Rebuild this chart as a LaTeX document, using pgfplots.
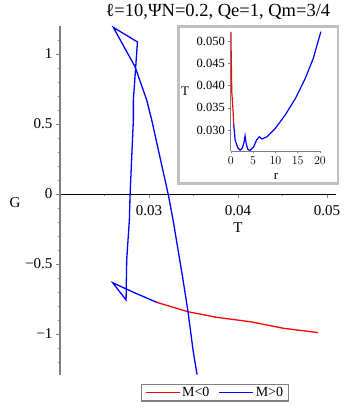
\documentclass[border=0pt]{standalone}
\usepackage{pgfplots}
\pgfplotsset{compat=1.18}
\usepackage{fontspec}
\setmainfont{Liberation Serif}
\definecolor{mred}{RGB}{255,0,0}
\definecolor{mblue}{RGB}{0,0,255}
\begin{document}
\begin{tikzpicture}[x=1pt,y=1pt]
\useasboundingbox (0,0) rectangle (344,410);
% main plot
\begin{axis}[
    scale only axis,
    width=276pt, height=348.6pt,
    anchor=south west, at={(60pt,35.4pt)},
    xmin=0.02, xmax=0.051,
    ymin=-1.29, ymax=1.2,
    axis x line=middle, axis y line=left,
    axis line style={-},
    x axis line style={black, line width=0.7pt},
    y axis line style={gray, line width=2pt},
    scaled x ticks=false, scaled y ticks=false,
    xtick={0.03,0.04,0.05},
    xticklabels={0.03,0.04,0.05},
    minor xtick={0.025,0.035,0.045},
    ytick={-1,-0.5,0,0.5,1},
    yticklabels={−1,−0.5,0,0.5,1},
    minor ytick={-1.2,-1.1,-0.9,-0.8,-0.7,-0.6,-0.4,-0.3,-0.2,-0.1,0.1,0.2,0.3,0.4,0.6,0.7,0.8,0.9,1.1},
    tick align=outside,
    major tick length=4pt, minor tick length=2.5pt,
    every tick/.style={gray, line width=0.6pt},
    tick label style={font=\fontsize{15}{15}\selectfont},
    xticklabel style={yshift=-4pt},
    title={ℓ=10,ΨN=0.2, Qe=1, Qm=3/4},
    every axis title/.style={at={(0.572,1.040)}, anchor=center, font=\fontsize{18.5}{18.5}\selectfont},
    xlabel={T},
    every axis x label/.style={at={(0.645,0.4205)}, anchor=center, font=\fontsize{15}{15}\selectfont},
    ylabel={G},
    every axis y label/.style={at={(-0.163,0.492)}, anchor=center, font=\fontsize{15}{15}\selectfont},
    legend columns=2,
    legend style={at={(0.5616,-0.0517)}, anchor=center, draw=gray, line width=1.2pt,
        font=\fontsize{14}{14}\selectfont, inner xsep=3pt, inner ysep=1pt,
        /tikz/every even column/.append style={column sep=7pt}},
    legend image code/.code={\draw[#1] (0pt,0pt) -- (34pt,0pt);},
]
\addplot[mred, line width=1.3pt] coordinates {
    (0.03087,-0.774) (0.03438,-0.841) (0.03761,-0.881) (0.04135,-0.912)
    (0.04509,-0.959) (0.0490,-0.990)
};
\addlegendentry{M<0}
\addplot[mblue, line width=1.3pt] coordinates {
    (0.03539,-1.29) (0.03494,-1.114) (0.03438,-0.841) (0.03382,-0.614)
    (0.03270,-0.186) (0.03217,-0.007) (0.03030,0.529) (0.02974,0.671)
    (0.02843,0.909) (0.02599,1.19) (0.02870,1.086) (0.02824,0.671)
    (0.02824,0.529) (0.02787,-0.007) (0.02779,-0.186) (0.02749,-0.471)
    (0.02742,-0.757) (0.02592,-0.634) (0.02843,-0.707) (0.03087,-0.774)
};
\addlegendentry{M>0}
\end{axis}
% inset frame
\draw[draw={rgb,255:red,192;green,192;blue,192}, fill=white, line width=2.7pt]
    (178.7,226.2) rectangle (338,383.7);
% inset plot
\begin{axis}[
    scale only axis,
    width=90.5pt, height=119.3pt,
    anchor=south west, at={(230.8pt,259pt)},
    xmin=0, xmax=20.3,
    ymin=0.0253, ymax=0.0521,
    axis lines=left,
    axis line style={-, gray, line width=0.8pt},
    scaled x ticks=false, scaled y ticks=false,
    xtick={0,5,10,15,20},
    minor xtick={1,2,3,4,6,7,8,9,11,12,13,14,16,17,18,19},
    ytick={0.03,0.035,0.04,0.045,0.05},
    yticklabels={0.030,0.035,0.040,0.045,0.050},
    tick align=outside,
    major tick length=2.5pt, minor tick length=1.5pt,
    every tick/.style={gray, line width=0.5pt},
    tick label style={font=\fontsize{12.5}{12.5}\selectfont},
    xlabel={r},
    every axis x label/.style={at={(0.4995,-0.215)}, anchor=center, font=\fontsize{13}{13}\selectfont},
    ylabel={T},
    every axis y label/.style={at={(-0.506,0.497)}, anchor=center, font=\fontsize{13}{13}\selectfont},
]
\addplot[mblue, line width=1.2pt] coordinates {
    (0.67,0.0311) (0.97,0.0278) (1.57,0.0260) (2.1,0.0255) (2.6,0.0260)
    (3.0,0.0274) (3.2,0.0287) (3.45,0.0270) (3.8,0.0257) (4.3,0.0254)
    (5.1,0.0262) (5.8,0.0278) (6.4,0.0285) (7.0,0.0280) (8.1,0.0285)
    (10.0,0.0304) (12.2,0.0334) (14.5,0.0371) (16.7,0.0416) (18.5,0.0461)
    (20.2,0.0521)
};
\addplot[mred, line width=1.2pt] coordinates {
    (0.02,0.0521) (0.05,0.0498) (0.1,0.0461) (0.22,0.0386) (0.52,0.0341)
    (0.67,0.0311)
};
\end{axis}
\end{tikzpicture}
\end{document}
